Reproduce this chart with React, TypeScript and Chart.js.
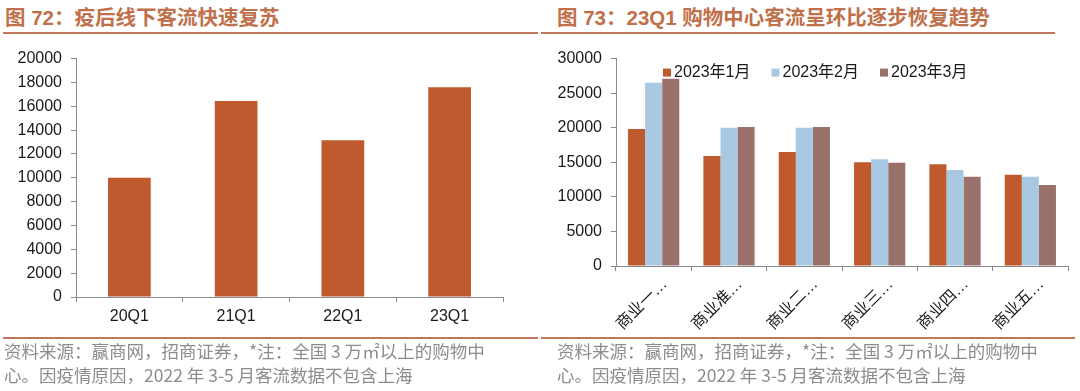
import React, { useEffect, useRef } from "react";
import { Chart, registerables } from "chart.js";

Chart.register(...registerables);

// ---- Data ----
const leftCategories = ["20Q1", "21Q1", "22Q1", "23Q1"];
const leftValues = [10000, 16450, 13150, 17600];
const leftTickMax = 20000;
const leftTickStep = 2000;

const rightCategories = ["商业一…", "商业准…", "商业二…", "商业三…", "商业四…", "商业五…"];
const seriesLabels = ["2023年1月", "2023年2月", "2023年3月"];
const janValues = [19800, 15900, 16500, 15000, 14700, 13200];
const febValues = [26500, 20000, 20000, 15450, 13900, 12900];
const marValues = [27100, 20100, 20100, 14950, 12900, 11700];
const rightTickMax = 30000;
const rightTickStep = 5000;

const titleLeft = "图 72：疫后线下客流快速复苏";
const titleRight = "图 73：23Q1 购物中心客流呈环比逐步恢复趋势";
const noteLine1 = "资料来源：赢商网，招商证券，*注：全国 3 万㎡以上的购物中";
const noteLine2 = "心。因疫情原因，2022 年 3-5 月客流数据不包含上海";

// ---- Styles ----
const ORANGE = "#BE5A2D";
const BLUE = "#A9C9E3";
const MAUVE = "#9A706A";
const TITLE_COLOR = "#C0704A";
const RULE_COLOR = "#C0775A";
const AXIS_COLOR = "#8a8a8a";
const FONT = "'Liberation Sans', Arial, 'Noto Sans CJK SC', sans-serif";
const TICK_FONT = { size: 16, family: FONT };

const legendPlugin = {
  id: "insideLegend",
  afterDraw(chart: any) {
    const ctx = chart.ctx;
    const area = chart.chartArea;
    ctx.save();
    ctx.font = `16px ${FONT}`;
    ctx.textBaseline = "middle";
    ctx.textAlign = "left";
    let x = area.left + 47;
    const y = area.top + 14;
    chart.data.datasets.forEach((ds: any) => {
      ctx.fillStyle = ds.backgroundColor;
      ctx.fillRect(x, y - 4, 8, 8);
      ctx.fillStyle = "#1a1a1a";
      ctx.fillText(ds.label, x + 11, y);
      x += 11 + ctx.measureText(ds.label).width + 21;
    });
    ctx.restore();
  },
};

function axisCommon() {
  return {
    border: { display: true, color: AXIS_COLOR, width: 1 },
    grid: {
      display: true,
      drawOnChartArea: false,
      drawTicks: true,
      tickLength: 5,
      color: AXIS_COLOR,
    },
  };
}

const plainNumber = (v: any) => String(v);

function LeftChart() {
  const ref = useRef<HTMLCanvasElement>(null);
  useEffect(() => {
    if (!ref.current) return;
    const chart = new Chart(ref.current, {
      type: "bar",
      data: {
        labels: leftCategories,
        datasets: [
          {
            label: "客流",
            data: leftValues,
            backgroundColor: ORANGE,
            categoryPercentage: 1,
            barPercentage: 0.4,
          },
        ],
      },
      options: {
        animation: false,
        responsive: false,
        maintainAspectRatio: false,
        layout: { padding: { top: 17, right: 37, left: 0, bottom: 0 } },
        plugins: { legend: { display: false }, tooltip: { enabled: false } },
        scales: {
          x: {
            ...axisCommon(),
            ticks: { font: TICK_FONT, color: "#1a1a1a", padding: 5 },
            afterFit: (s: any) => {
              s.height = 41;
            },
          },
          y: {
            ...axisCommon(),
            min: 0,
            max: leftTickMax,
            ticks: {
              stepSize: leftTickStep,
              font: TICK_FONT,
              color: "#1a1a1a",
              padding: 9,
              callback: plainNumber,
            },
            afterFit: (s: any) => {
              s.width = 76;
            },
          },
        },
      },
    });
    return () => chart.destroy();
  }, []);
  return <canvas ref={ref} width={540} height={298} style={{ display: "block" }} />;
}

function RightChart() {
  const ref = useRef<HTMLCanvasElement>(null);
  useEffect(() => {
    if (!ref.current) return;
    const colors = [ORANGE, BLUE, MAUVE];
    const values = [janValues, febValues, marValues];
    const chart = new Chart(ref.current, {
      type: "bar",
      data: {
        labels: rightCategories,
        datasets: seriesLabels.map((label, i) => ({
          label,
          data: values[i],
          backgroundColor: colors[i],
          categoryPercentage: 0.68,
          barPercentage: 1,
        })),
      },
      options: {
        animation: false,
        responsive: false,
        maintainAspectRatio: false,
        layout: { padding: { top: 9, right: 12, left: 0, bottom: 0 } },
        plugins: { legend: { display: false }, tooltip: { enabled: false } },
        scales: {
          x: {
            ...axisCommon(),
            ticks: {
              font: TICK_FONT,
              color: "#1a1a1a",
              padding: 4,
              labelOffset: 11,
              minRotation: 45,
              maxRotation: 45,
              autoSkip: false,
            },
            afterFit: (s: any) => {
              s.height = 72;
            },
          },
          y: {
            ...axisCommon(),
            min: 0,
            max: rightTickMax,
            ticks: {
              stepSize: rightTickStep,
              font: TICK_FONT,
              color: "#1a1a1a",
              padding: 9,
              callback: plainNumber,
            },
            afterFit: (s: any) => {
              s.width = 76;
            },
          },
        },
      },
      plugins: [legendPlugin],
    });
    return () => chart.destroy();
  }, []);
  return <canvas ref={ref} width={540} height={298} style={{ display: "block" }} />;
}

const titleStyle: React.CSSProperties = {
  position: "absolute",
  top: 7,
  fontFamily: FONT,
  fontWeight: "bold",
  fontSize: 20.5,
  lineHeight: "22px",
  color: TITLE_COLOR,
  whiteSpace: "nowrap",
};

const noteStyle: React.CSSProperties = {
  position: "absolute",
  fontFamily: "'Noto Sans CJK SC', 'Liberation Sans', sans-serif",
  fontSize: 17.5,
  lineHeight: "24px",
  color: "#8c8c8c",
  whiteSpace: "nowrap",
};

export default function App() {
  return (
    <div
      style={{
        position: "absolute",
        left: 0,
        top: 0,
        width: 1080,
        height: 391,
        background: "#fff",
        overflow: "hidden",
      }}
    >
      <div style={{ ...titleStyle, left: 5 }}>{titleLeft}</div>
      <div style={{ ...titleStyle, left: 557 }}>{titleRight}</div>
      <div style={{ position: "absolute", left: 3, top: 32, width: 535, height: 2, background: RULE_COLOR }} />
      <div style={{ position: "absolute", left: 541, top: 32, width: 514, height: 2, background: RULE_COLOR }} />

      <div style={{ position: "absolute", left: 0, top: 40 }}>
        <LeftChart />
      </div>
      <div style={{ position: "absolute", left: 540, top: 40 }}>
        <RightChart />
      </div>

      <div style={{ position: "absolute", left: 3, top: 337, width: 535, height: 2, background: RULE_COLOR }} />
      <div style={{ position: "absolute", left: 541, top: 337, width: 534, height: 2, background: RULE_COLOR }} />

      <div style={{ ...noteStyle, left: 4, top: 339 }}>
        <div>{noteLine1}</div>
        <div>{noteLine2}</div>
      </div>
      <div style={{ ...noteStyle, left: 557, top: 339 }}>
        <div>{noteLine1}</div>
        <div>{noteLine2}</div>
      </div>
    </div>
  );
}
